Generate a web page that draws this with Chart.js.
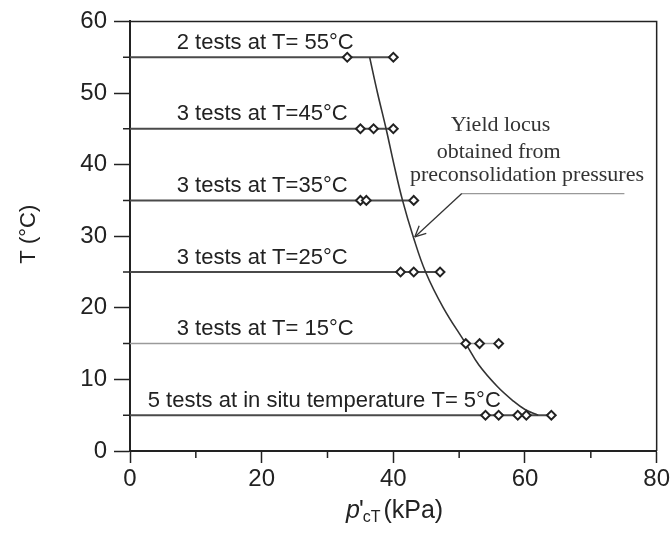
<!DOCTYPE html>
<html>
<head>
<meta charset="utf-8">
<script src="https://cdn.jsdelivr.net/npm/chart.js@4.4.1/dist/chart.umd.min.js"></script>
<style>
  html, body { margin: 0; padding: 0; background: #fff; }
  #wrap { width: 672px; height: 535px; }
</style>
</head>
<body>
<div id="wrap"><canvas id="chart"></canvas></div>
<script>
const tempLevels = [55, 45, 35, 25, 15, 5];
const lineEnds = [40.5, 40.5, 43.1, 47.1, 56, 64];
const testLabels = [
  '2 tests at T= 55°C',
  '3 tests at T=45°C',
  '3 tests at T=35°C',
  '3 tests at T=25°C',
  '3 tests at T= 15°C',
  '5 tests at in situ temperature T= 5°C'
];
const labelStartX = [7.1, 7.1, 7.1, 7.1, 7.1, 2.7];

const p55 = [33, 40];
const p45 = [35, 37, 40];
const p35 = [35, 35.9, 43.1];
const p25 = [41.1, 43.1, 47.1];
const p15 = [51, 53.1, 56];
const p5  = [54, 56, 58.9, 60.2, 64];
const testValues = [p55, p45, p35, p25, p15, p5];

// yield locus
const locusP = [36.4, 37.6, 38.9, 40.1, 41.4, 43.0, 44.9, 47.6, 51.0, 53.0, 55.8, 58.2, 60.0, 62.0];
const locusT = [55, 50, 45, 40, 35, 30, 25, 20, 15, 12, 9, 7, 5.8, 5];

const xTicks = [0, 20, 40, 60, 80];
const yTicks = [0, 10, 20, 30, 40, 50, 60];

const INK = '#222';

// ——— datasets ———
const datasets = [];

tempLevels.forEach((t, i) => {
  datasets.push({
    type: 'line',
    data: [{ x: 0, y: t }, { x: lineEnds[i], y: t }],
    borderColor: t === 15 ? '#9a9a9a' : '#4a4a4a',
    borderWidth: t === 15 ? 1.5 : 2,
    pointRadius: 0,
    order: 3
  });
});

datasets.push({
  type: 'line',
  data: locusP.map((p, i) => ({ x: p, y: locusT[i] })),
  borderColor: '#333',
  borderWidth: 1.6,
  pointRadius: 0,
  tension: 0.4,
  order: 2
});

testValues.forEach((vals, i) => {
  datasets.push({
    type: 'scatter',
    data: vals.map(p => ({ x: p, y: tempLevels[i] })),
    pointStyle: 'rectRot',
    pointRadius: 4.4,
    pointBorderWidth: 2,
    pointBorderColor: INK,
    pointBackgroundColor: '#fff',
    order: 1
  });
});

// ——— custom drawing: frame, minor ticks, titles, annotations ———
const decorPlugin = {
  id: 'decor',
  afterDraw(chart) {
    const { ctx, chartArea: a, scales: { x, y } } = chart;
    ctx.save();

    // top + right frame
    ctx.strokeStyle = INK;
    ctx.lineWidth = 1.5;
    ctx.beginPath();
    ctx.moveTo(a.left, a.top); ctx.lineTo(a.right, a.top); ctx.lineTo(a.right, a.bottom);
    ctx.stroke();

    // minor ticks
    ctx.lineWidth = 1.5;
    ctx.beginPath();
    [10, 30, 50, 70].forEach(v => {
      const px = x.getPixelForValue(v);
      ctx.moveTo(px, a.bottom); ctx.lineTo(px, a.bottom + 7);
    });
    [5, 15, 25, 35, 45, 55].forEach(v => {
      const py = y.getPixelForValue(v);
      ctx.moveTo(a.left - 7, py); ctx.lineTo(a.left, py);
    });
    ctx.stroke();

    // row labels
    ctx.fillStyle = INK;
    ctx.font = '22px "Liberation Sans", Arial, sans-serif';
    ctx.textAlign = 'left';
    ctx.textBaseline = 'alphabetic';
    testLabels.forEach((txt, i) => {
      ctx.fillText(txt, x.getPixelForValue(labelStartX[i]), y.getPixelForValue(tempLevels[i]) - 8.5);
    });

    // yield locus note
    ctx.fillStyle = '#333';
    ctx.font = '22px "Liberation Serif", "Times New Roman", serif';
    ctx.textAlign = 'center';
    ctx.fillText('Yield locus', x.getPixelForValue(56.3), y.getPixelForValue(44.65));
    ctx.fillText('obtained from', x.getPixelForValue(56.0), y.getPixelForValue(40.9));
    ctx.fillText('preconsolidation pressures', x.getPixelForValue(60.3), y.getPixelForValue(37.7));

    // underline + arrow to the locus
    const ux0 = x.getPixelForValue(50.4), ux1 = x.getPixelForValue(75.1), uy = y.getPixelForValue(35.96);
    ctx.strokeStyle = '#999';
    ctx.lineWidth = 1.2;
    ctx.beginPath(); ctx.moveTo(ux0, uy); ctx.lineTo(ux1, uy); ctx.stroke();

    const tx = x.getPixelForValue(43.26), ty = y.getPixelForValue(29.9);
    ctx.strokeStyle = '#333';
    ctx.lineWidth = 1.3;
    ctx.beginPath(); ctx.moveTo(ux0, uy); ctx.lineTo(tx, ty); ctx.stroke();
    const ang = Math.atan2(uy - ty, ux0 - tx);
    ctx.beginPath();
    [0.45, -0.45].forEach(d => {
      ctx.moveTo(tx, ty);
      ctx.lineTo(tx + 12 * Math.cos(ang + d), ty + 12 * Math.sin(ang + d));
    });
    ctx.stroke();

    // y title
    ctx.fillStyle = INK;
    ctx.font = '22px "Liberation Sans", Arial, sans-serif';
    ctx.save();
    ctx.translate(29, (a.top + a.bottom) / 2 - 2);
    ctx.rotate(-Math.PI / 2);
    ctx.textAlign = 'center';
    ctx.textBaseline = 'middle';
    ctx.fillText('T (°C)', 0, 0);
    ctx.restore();

    // x title: p'cT (kPa)
    const base = 518;
    const fMain = '25px "Liberation Sans", Arial, sans-serif';
    const fItal = 'italic 25px "Liberation Sans", Arial, sans-serif';
    const fSub = '16px "Liberation Sans", Arial, sans-serif';
    ctx.textAlign = 'left';
    ctx.textBaseline = 'alphabetic';
    ctx.font = fItal; const wP = ctx.measureText('p').width;
    ctx.font = fMain; const wQ = ctx.measureText("'").width;
    ctx.font = fSub; const wS = ctx.measureText('cT').width;
    let cx = 346;
    ctx.font = fItal; ctx.fillText('p', cx, base); cx += wP;
    ctx.font = fMain; ctx.fillText("'", cx - 1, base); cx += wQ - 2;
    ctx.font = fSub; ctx.fillText('cT', cx, base + 4); cx += wS;
    ctx.font = fMain; ctx.fillText('(kPa)', cx + 3, base);

    ctx.restore();
  }
};

new Chart(document.getElementById('chart'), {
  type: 'scatter',
  data: { datasets },
  options: {
    responsive: true,
    maintainAspectRatio: false,
    animation: false,
    layout: { padding: { left: 0, top: 21, right: 15, bottom: 0 } },
    plugins: { legend: { display: false }, tooltip: { enabled: false } },
    scales: {
      x: {
        type: 'linear',
        min: 0, max: 80,
        afterBuildTicks: s => { s.ticks = xTicks.map(v => ({ value: v })); },
        afterFit: s => { s.height = 84; },
        ticks: { color: INK, font: { family: '"Liberation Sans", Arial, sans-serif', size: 24 }, padding: 2, maxRotation: 0, autoSkip: false },
        grid: { drawOnChartArea: false, tickLength: 12, tickColor: INK, tickWidth: 1.5 },
        border: { color: INK, width: 2 }
      },
      y: {
        type: 'linear',
        min: 0, max: 60,
        afterBuildTicks: s => { s.ticks = yTicks.map(v => ({ value: v })); },
        afterFit: s => { s.width = 130; },
        ticks: { color: INK, font: { family: '"Liberation Sans", Arial, sans-serif', size: 24 }, padding: 7, autoSkip: false },
        grid: { drawOnChartArea: false, tickLength: 16, tickColor: INK, tickWidth: 1.5 },
        border: { color: INK, width: 2 }
      }
    }
  },
  plugins: [decorPlugin]
});
</script>
</body>
</html>
